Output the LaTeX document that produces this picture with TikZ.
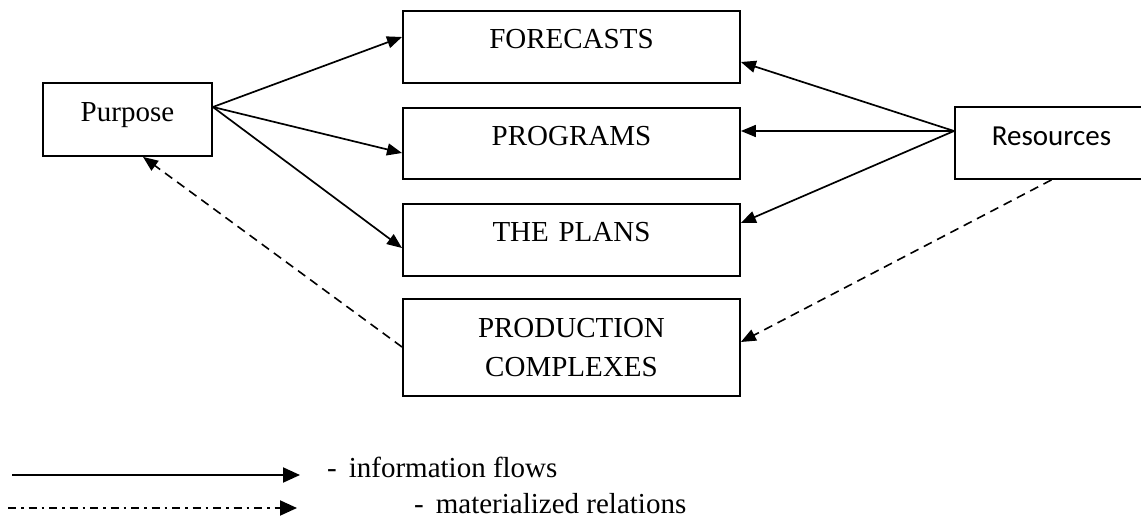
\documentclass[tikz,border=0pt]{standalone}
\usepackage{fontspec}
\setmainfont{Liberation Serif}
\newfontfamily\calib{Carlito}
\usetikzlibrary{arrows.meta,calc}
\tikzset{
  box/.style={draw, line width=1.9pt, inner sep=0pt, anchor=north west, align=center,
    font=\fontsize{29}{39}\selectfont},
  flow/.style={line width=1.7pt, -{Triangle[length=15pt,width=12pt]}},
  mat/.style={line width=1.6pt, dash pattern=on 9pt off 6pt, -{Triangle[length=15pt,width=12pt]}},
  legflow/.style={line width=2pt, -{Triangle[length=17pt,width=15pt]}},
  legmat/.style={line width=2pt, dash pattern=on 8pt off 5pt on 2.5pt off 5pt, -{Triangle[length=17pt,width=15pt]}},
  legtext/.style={anchor=base west, inner sep=0pt, font=\fontsize{29}{34}\selectfont}
}
\begin{document}
\begin{tikzpicture}[x=1pt,y=-1pt]
\useasboundingbox (0,0) rectangle (1141,524);
% boxes
\node[box, text width=169pt, text height=39pt, text depth=34pt] (pur) at (42,82) {Purpose};
\node[box, text width=337pt, text height=38pt, text depth=34pt] (fc) at (402,10) {FORECASTS};
\node[box, text width=337pt, text height=38pt, text depth=33pt] (pg) at (402,107) {PROGRAMS};
\node[box, text width=337pt, text height=38pt, text depth=34pt] (pl) at (402,203) {THE PLANS};
\node[box, text width=337pt, text height=39pt, text depth=58pt] (pc) at (402,298) {PRODUCTION\\COMPLEXES};
\node[box, text width=193pt, text height=39pt, text depth=33pt, font=\calib\fontsize{29}{34}\selectfont] (res) at (954,106) {Resources};
% information flows
\coordinate (pout) at ([yshift=-25pt]pur.north east);
\draw[flow] (pout) -- ([yshift=-27pt]fc.north west);
\draw[flow] (pout) -- ([yshift=-46pt]pg.north west);
\draw[flow] (pout) -- ([yshift=-45pt]pl.north west);
\coordinate (rout) at ([yshift=-25pt]res.north west);
\draw[flow] (rout) -- ([yshift=-52pt]fc.north east);
\draw[flow] (rout) -- ([yshift=-24pt]pg.north east);
\draw[flow] (rout) -- ([yshift=-20pt]pl.north east);
% materialized relations
\draw[mat] (res.south) -- ([yshift=-44pt]pc.north east);
\draw[mat] ([yshift=-49pt]pc.north west) -- ([xshift=101pt]pur.south west);
% legend
\coordinate (l1a) at (12,475);
\coordinate (l1b) at (300,475);
\coordinate (l2a) at (8,508);
\coordinate (l2b) at (297,508);
\draw[legflow] (l1a) -- (l1b);
\draw[legmat] (l2a) -- (l2b);
\node[legtext] (t1) at (327,477) {-\hspace{12pt}information flows};
\node[legtext] (t2) at (414,513) {-\hspace{12pt}materialized relations};
\end{tikzpicture}
\end{document}
